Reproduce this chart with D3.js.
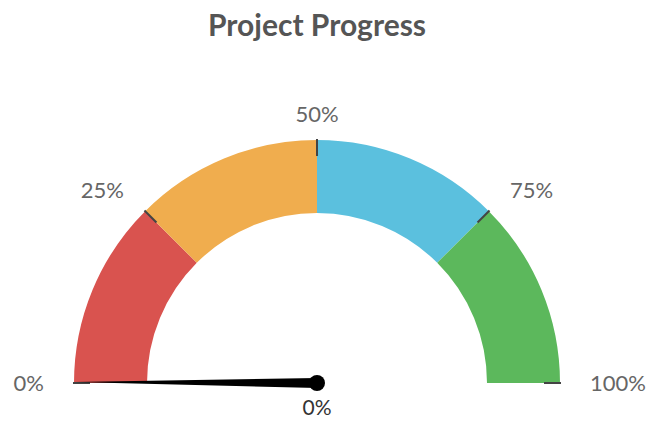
<!DOCTYPE html>
<html>
<head>
<meta charset="utf-8">
<script src="https://cdn.jsdelivr.net/npm/d3@7"></script>
<style>
  body { margin: 0; background: #fff; }
  text { font-family: Lato, "Open Sans", sans-serif; }
  .title { font-size: 30px; font-weight: bold; fill: #555; text-anchor: middle; }
  .tick-label { font-size: 22px; fill: #666; }
  .value-label { font-size: 21px; fill: #333; text-anchor: middle; }
</style>
</head>
<body>
<div id="chart"></div>
<script>
// gauge data
var bands = [0, 25, 50, 75, 100];
var bandColors = ["#d9534f", "#f0ad4e", "#5bc0de", "#5cb85c"];
var tickValues = [0, 25, 50, 75, 100];
var tickLabels = ["0%", "25%", "50%", "75%", "100%"];
var value = 0;

var width = 651, height = 421;
var cx = 317, cy = 383;
var outerR = 243, innerR = 170;

var svg = d3.select("#chart").append("svg")
  .attr("width", width).attr("height", height);

svg.append("text").attr("class", "title")
  .attr("x", cx).attr("y", 36)
  .text("Project Progress");

var g = svg.append("g").attr("transform", "translate(" + cx + "," + cy + ")");

// value -> angle, 0 is left, 100 is right (d3.arc angles, 0 = up)
var angle = d3.scaleLinear().domain([0, 100]).range([-Math.PI / 2, Math.PI / 2]);

var arc = d3.arc().innerRadius(innerR).outerRadius(outerR);

g.selectAll("path.band")
  .data(d3.range(bands.length - 1))
  .enter().append("path")
  .attr("class", "band")
  .attr("d", function(i){
    return arc({startAngle: angle(bands[i]), endAngle: angle(bands[i + 1])});
  })
  .attr("fill", function(i){ return bandColors[i]; });

// little tick marks on the outer edge
g.selectAll("line.tick")
  .data(tickValues)
  .enter().append("line")
  .attr("class", "tick")
  .attr("x1", function(d){ return Math.sin(angle(d)) * (outerR + 1); })
  .attr("y1", function(d){ return -Math.cos(angle(d)) * (outerR + 1); })
  .attr("x2", function(d){ return Math.sin(angle(d)) * (outerR - 16); })
  .attr("y2", function(d){ return -Math.cos(angle(d)) * (outerR - 16); })
  .attr("stroke", "#444")
  .attr("stroke-width", 2);

var labelR = 273;
g.selectAll("text.tick-label")
  .data(tickValues)
  .enter().append("text")
  .attr("class", "tick-label")
  .attr("x", function(d){ return Math.sin(angle(d)) * labelR; })
  .attr("y", function(d){ return -Math.cos(angle(d)) * labelR; })
  .attr("dy", function(d){ return d == 50 ? "0.55em" : "0.35em"; })
  .attr("text-anchor", function(d){ return d < 50 ? "end" : (d > 50 ? "start" : "middle"); })
  .text(function(d, i){ return tickLabels[i]; });

// needle
var a = angle(value);
var tipR = outerR, baseW = 5;
var tip = [Math.sin(a) * tipR, -Math.cos(a) * tipR];
var perp = [Math.cos(a) * baseW, Math.sin(a) * baseW];
g.append("path")
  .attr("d", "M" + tip[0] + "," + (tip[1] - 1) +
    " L" + perp[0] + "," + perp[1] +
    " L" + (-perp[0]) + "," + (-perp[1]) + " Z")
  .attr("fill", "#000");

g.append("circle").attr("r", 8).attr("fill", "#000");

g.append("text").attr("class", "value-label")
  .attr("x", 0).attr("y", 32)
  .text(value + "%");
</script>
</body>
</html>
